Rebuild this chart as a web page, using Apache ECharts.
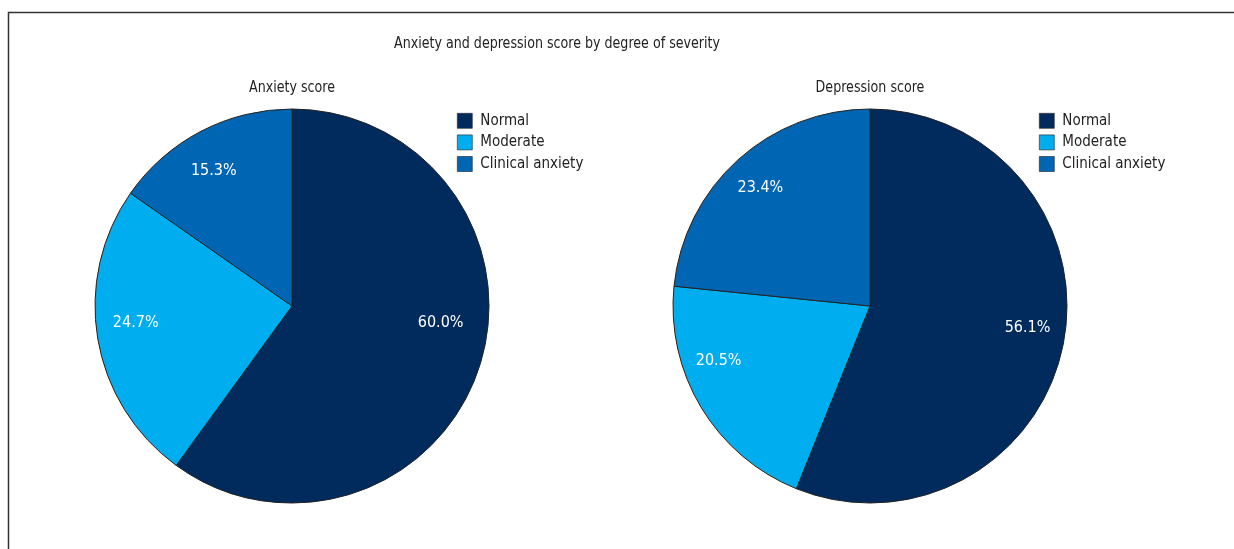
<!DOCTYPE html>
<html><head><meta charset="utf-8">
<script src="https://cdn.jsdelivr.net/npm/echarts@6/dist/echarts.min.js"></script>
<style>html,body{margin:0;padding:0;background:#fff}#c{width:1234px;height:549px}</style>
</head><body><div id="c"></div>
<script>
var categories = ['Normal', 'Moderate', 'Clinical anxiety'];
var anxietyValues = [60.0, 24.7, 15.3];
var depressionValues = [56.1, 20.5, 23.4];
var colors = ['#002b5c', '#00aeef', '#0066b3'];
var mainTitle = 'Anxiety and depression score by degree of severity';
var pieTitles = ['Anxiety score', 'Depression score'];
var FONT = '"DejaVu Sans Condensed", "Liberation Sans Narrow", sans-serif';

function mk(vals, offs){
  return categories.map(function(n,i){ return {name:n, value:vals[i], label:{offset:offs[i]}}; });
}
function pies(center, vals, offs){
  return [{
    type:'pie', center:center, radius:197, startAngle:90, clockwise:true,
    silent:true, animation:false,
    itemStyle:{borderColor:'#222', borderWidth:1},
    label:{show:false}, labelLine:{show:false},
    data: categories.map(function(n,i){ return {name:n, value:vals[i]}; })
  },{
    type:'pie', center:center, radius:[118,197], startAngle:90, clockwise:true,
    silent:true, animation:false,
    itemStyle:{color:'transparent', borderWidth:0},
    label:{show:true, position:'inside', color:'#fff', fontSize:16, fontFamily:FONT,
      formatter:function(p){ return p.value.toFixed(1)+'%'; }},
    labelLine:{show:false},
    data: mk(vals, offs)
  }];
}
var legendData = categories.map(function(n,i){ return {name:n, itemStyle:{color:colors[i], borderColor:'#222', borderWidth:0.6}}; });
function legend(left){
  return {left:left, top:113, padding:0, orient:'vertical', itemWidth:15, itemHeight:15, itemGap:6,
    icon:'rect', selectedMode:false, data:legendData,
    textStyle:{fontFamily:FONT, fontSize:15, color:'#222', lineHeight:15, padding:[0,0,0,3]}};
}
function ttl(text, x, y){
  return {type:'text', x:x, y:y, scaleX:0.88, silent:true,
    style:{text:text, textAlign:'center', textVerticalAlign:'middle', font:'16px ' + FONT, fill:'#222'}};
}
var chart = echarts.init(document.getElementById('c'));
chart.setOption({
  color: colors,
  animation:false,
  legend:[legend(457), legend(1039)],
  graphic:[
    {type:'polyline', shape:{points:[[8.5,549],[8.5,12.5],[1234,12.5]]}, style:{stroke:'#333', lineWidth:1.5, fill:null}},
    ttl(mainTitle, 557, 44),
    ttl(pieTitles[0], 292, 88),
    ttl(pieTitles[1], 870, 88)
  ],
  series: pies([292,306], anxietyValues, [[-4,-33],[2,-10],[-4,7]])
    .concat(pies([870,306], depressionValues, [[0,-9],[-14,-28],[-2,1]]))
});
</script></body></html>
